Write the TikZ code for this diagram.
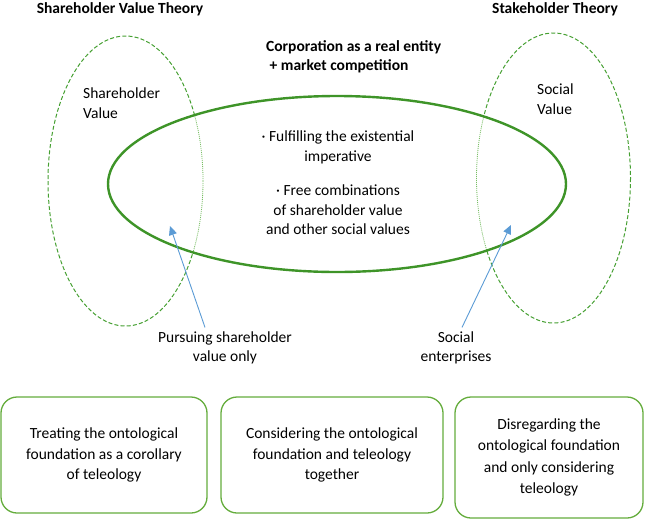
\documentclass[tikz,border=0pt]{standalone}
\usepackage{fontspec}
\setmainfont{Carlito}
\usetikzlibrary{arrows.meta}
\definecolor{maingreen}{RGB}{62,148,40}
\definecolor{dashgreen}{RGB}{70,160,50}
\definecolor{dotgreen}{RGB}{120,190,100}
\definecolor{boxgreen}{RGB}{100,172,60}
\definecolor{arrowblue}{RGB}{91,155,213}
\tikzset{
  txt/.style={font=\fontsize{15.5}{19.5}\selectfont, inner sep=0pt, align=center},
  btxt/.style={txt, font=\fontsize{15.5}{19.5}\selectfont\bfseries},
  boxtxt/.style={txt, font=\fontsize{15.5}{20.5}\selectfont},
  dashell/.style={draw=dashgreen, line width=1pt, dash pattern=on 4pt off 2.2pt},
  dotell/.style={draw=dotgreen, line width=0.8pt, dash pattern=on 1pt off 1pt},
  mainell/.style={draw=maingreen, line width=2.4pt},
  pointer/.style={draw=arrowblue, line width=0.9pt, -{Triangle[length=9pt,width=8pt]}},
  rbox/.style={draw=boxgreen, line width=1.3pt, rounded corners=16pt},
}
\begin{document}
\begin{tikzpicture}[x=1pt,y=-1pt]
\useasboundingbox (0,0) rectangle (645,520);
% dashed theory ellipses
\draw[dashell] (125.5,181) ellipse [x radius=77.5, y radius=145];
\draw[dashell] (553.5,178) ellipse [x radius=77, y radius=145];
% cover the interior of the main ellipse
\fill[white] (337,184) ellipse [x radius=229, y radius=88];
\begin{scope}
\clip (337,184) ellipse [x radius=229, y radius=88];
\draw[dotell] (125.5,181) ellipse [x radius=77.5, y radius=145];
\draw[dotell] (553.5,178) ellipse [x radius=77, y radius=145];
\end{scope}
% main ellipse
\draw[mainell] (337,184) ellipse [x radius=229, y radius=88];
% titles
\node[btxt] (svt) at (120,9) {Shareholder Value Theory};
\node[btxt] (st) at (555,9) {Stakeholder Theory};
\node[btxt, anchor=north west, align=left] (corp) at (266,40) {Corporation as a real entity\\\ + market competition};
% ellipse labels
\node[txt, anchor=north west, align=left] (sv) at (83,88) {Shareholder\\Value};
\node[txt, anchor=north west, align=left] (socv) at (537,84) {Social\\Value};
\node[txt] (fulfil) at (338,147.5) {· Fulfilling the existential\\imperative};
\node[txt] (free) at (338,210) {· Free combinations\\of shareholder value\\and other social values};
% pointer labels
\node[txt] (pursue) at (225,348) {Pursuing shareholder\\value only};
\node[txt] (socent) at (456,348) {Social\\enterprises};
\coordinate (tipL) at (170,226);
\coordinate (tipR) at (511,225);
\draw[pointer] (pursue.north -| 205,0) ++(0,-4) -- (tipL);
\draw[pointer] (socent.north -| 462,0) ++(0,-4) -- (tipR);
% bottom boxes
\node[rbox, minimum width=206pt, minimum height=116pt, boxtxt] (b1) at (104,455)
  {Treating the ontological\\foundation as a corollary\\of teleology};
\node[rbox, minimum width=222pt, minimum height=116pt, boxtxt] (b2) at (332,455)
  {Considering the ontological\\foundation and teleology\\together};
\node[rbox, minimum width=188pt, minimum height=121pt, txt, font=\fontsize{15.5}{21.5}\selectfont] (b3) at (549,457.5)
  {Disregarding the\\ontological foundation\\and only considering\\teleology};
\end{tikzpicture}
\end{document}
